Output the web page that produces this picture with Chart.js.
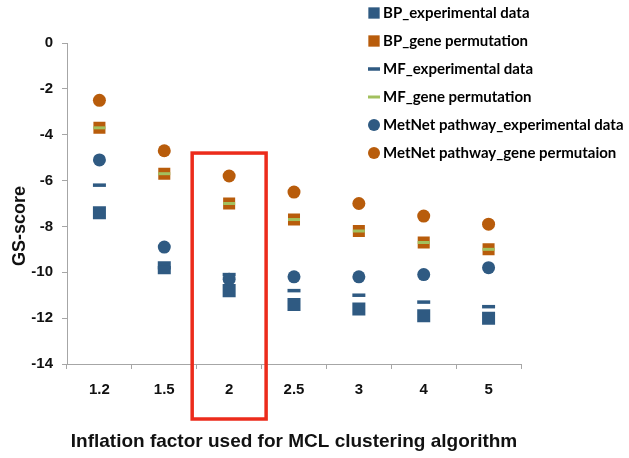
<!DOCTYPE html>
<html>
<head>
<meta charset="utf-8">
<script src="https://cdn.jsdelivr.net/npm/chart.js@4.4.1/dist/chart.umd.min.js"></script>
<style>
  body { margin: 0; background: #fff; }
  #wrap { width: 629px; height: 458px; position: relative; }
</style>
</head>
<body>
<div id="wrap"><canvas id="gs-chart"></canvas></div>
<script>
const inflationFactors = ["1.2", "1.5", "2", "2.5", "3", "4", "5"];
const bpExperimental = [-7.4, -9.8, -10.8, -11.4, -11.6, -11.9, -12.0];
const bpPermutation = [-3.7, -5.7, -7.0, -7.7, -8.2, -8.7, -9.0];
const mfExperimental = [-6.2, -9.8, -10.1, -10.8, -11.0, -11.3, -11.5];
const mfPermutation = [-3.7, -5.7, -7.0, -7.7, -8.2, -8.7, -9.0];
const metnetExperimental = [-5.1, -8.9, -10.3, -10.2, -10.2, -10.1, -9.8];
const metnetPermutation = [-2.5, -4.7, -5.8, -6.5, -7.0, -7.55, -7.9];
const yTickValues = [0, -2, -4, -6, -8, -10, -12, -14];
const highlighted = "2";

const blue = "#2f5a82";
const orange = "#b85c0b";
const green = "#a2c05e";
const axisGray = "#a6a6a6";

const series = [
  { label: "BP_experimental data", data: bpExperimental, pointStyle: "rect", pointRadius: 9.2, color: blue, borderWidth: 0 },
  { label: "BP_gene permutation", data: bpPermutation, pointStyle: "rect", pointRadius: 8.5, color: orange, borderWidth: 0 },
  { label: "MF_experimental data", data: mfExperimental, pointStyle: "line", pointRadius: 6.5, color: blue, borderWidth: 3.5 },
  { label: "MF_gene permutation", data: mfPermutation, pointStyle: "line", pointRadius: 6, color: green, borderWidth: 3 },
  { label: "MetNet pathway_experimental data", data: metnetExperimental, pointStyle: "circle", pointRadius: 6.5, color: blue, borderWidth: 0 },
  { label: "MetNet pathway_gene permutaion", data: metnetPermutation, pointStyle: "circle", pointRadius: 6.5, color: orange, borderWidth: 0 },
];

// draws one marker the same way the points look
const drawMarker = (ctx, s, x, y, r) => {
  ctx.save();
  ctx.fillStyle = s.color;
  ctx.strokeStyle = s.color;
  ctx.beginPath();
  if (s.pointStyle === "circle") {
    ctx.arc(x, y, r, 0, Math.PI * 2);
    ctx.fill();
  } else if (s.pointStyle === "rect") {
    const h = r * Math.SQRT1_2;
    ctx.fillRect(x - h, y - h, 2 * h, 2 * h);
  } else {
    ctx.lineWidth = s.borderWidth;
    ctx.moveTo(x - r, y);
    ctx.lineTo(x + r, y);
    ctx.stroke();
  }
  ctx.restore();
};

const overlay = {
  id: "overlay",
  afterDraw(chart) {
    const { ctx, chartArea, scales } = chart;
    const x = scales.x;
    const y = scales.y;

    // red box round the highlighted inflation factor
    const cx = x.getPixelForValue(inflationFactors.indexOf(highlighted));
    const half = (x.width / inflationFactors.length) * 0.57;
    const top = y.getPixelForValue(-4.8);
    ctx.save();
    ctx.strokeStyle = "#ec2b1b";
    ctx.lineWidth = 3.5;
    ctx.strokeRect(cx - half, top, half * 2, chartArea.bottom + 55 - top);

    // axis titles
    ctx.fillStyle = "#111";
    ctx.textAlign = "center";
    ctx.textBaseline = "middle";
    ctx.font = "bold 19px 'Liberation Sans', Arial, sans-serif";
    ctx.fillText("Inflation factor used for MCL clustering algorithm", (chartArea.left + chartArea.right) / 2, 442);
    ctx.font = "bold 18px 'Liberation Sans', Arial, sans-serif";
    ctx.translate(20, 226);
    ctx.rotate(-Math.PI / 2);
    ctx.fillText("GS-score", 0, 0);
    ctx.restore();

    // legend
    ctx.save();
    ctx.font = "bold 15px Lato, sans-serif";
    ctx.textAlign = "left";
    ctx.textBaseline = "middle";
    ctx.fillStyle = "#000";
    series.forEach((s, i) => {
      const ly = 13 + i * 28;
      drawMarker(ctx, s, 374, ly, s.pointStyle === "rect" ? 8 : 6);
      ctx.fillText(s.label, 383, ly);
    });
    ctx.restore();
  },
};

const tickFont = { family: "'Liberation Sans', Arial, sans-serif", size: 15, weight: "bold" };

new Chart(document.getElementById("gs-chart"), {
  type: "line",
  data: {
    labels: inflationFactors,
    datasets: series.map((s, i) => ({
      label: s.label,
      data: s.data,
      showLine: false,
      pointStyle: s.pointStyle,
      pointRadius: s.pointRadius,
      pointBackgroundColor: s.color,
      pointBorderColor: s.color,
      pointBorderWidth: s.borderWidth,
      order: series.length - i,
    })),
  },
  options: {
    responsive: true,
    maintainAspectRatio: false,
    animation: false,
    events: [],
    layout: { padding: { top: 43, right: 108, bottom: 0, left: 0 } },
    plugins: { legend: { display: false }, tooltip: { enabled: false } },
    scales: {
      x: {
        offset: true,
        grid: { offset: true, drawOnChartArea: false, tickLength: 5, color: axisGray },
        border: { color: axisGray, width: 1 },
        ticks: { font: tickFont, color: "#111", padding: 12, maxRotation: 0 },
        afterFit: (scale) => { scale.height = 94; },
      },
      y: {
        min: -14,
        max: 0,
        grid: { drawOnChartArea: false, tickLength: 5, color: axisGray },
        border: { color: axisGray, width: 1 },
        ticks: { font: tickFont, color: "#111", padding: 9 },
        afterBuildTicks: (scale) => { scale.ticks = yTickValues.map((v) => ({ value: v })); },
        afterFit: (scale) => { scale.width = 67; },
      },
    },
  },
  plugins: [overlay],
});
</script>
</body>
</html>
